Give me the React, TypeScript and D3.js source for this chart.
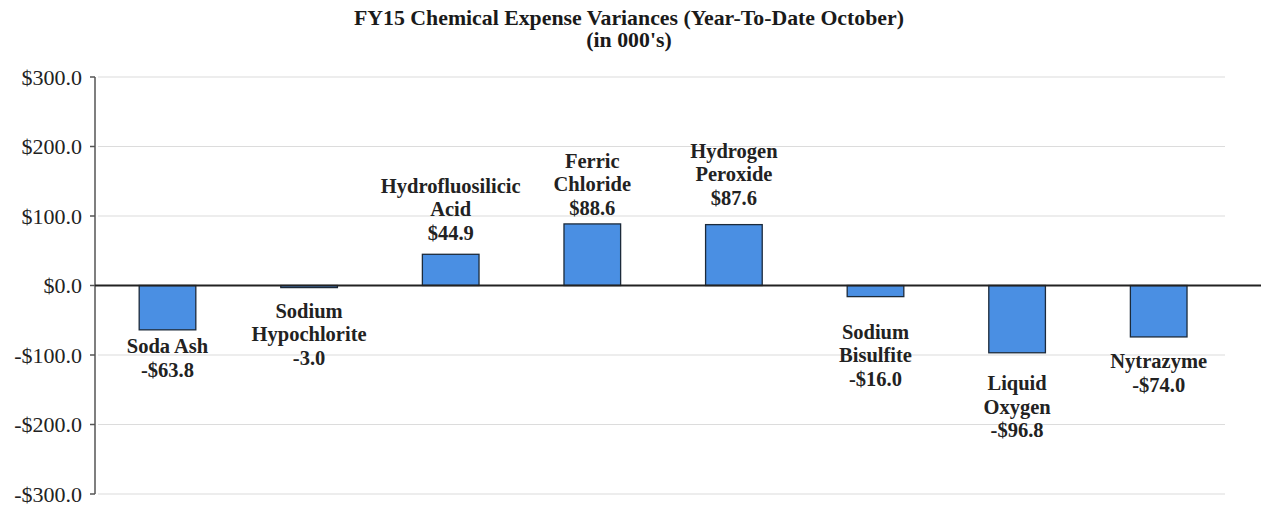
import React from "react";
import * as d3 from "d3";

const categories: string[][] = [
  ["Soda Ash"],
  ["Sodium", "Hypochlorite"],
  ["Hydrofluosilicic", "Acid"],
  ["Ferric", "Chloride"],
  ["Hydrogen", "Peroxide"],
  ["Sodium", "Bisulfite"],
  ["Liquid", "Oxygen"],
  ["Nytrazyme"],
];
const values: number[] = [-63.8, -3.0, 44.9, 88.6, 87.6, -16.0, -96.8, -74.0];
const valueLabels: string[] = ["-$63.8", "-3.0", "$44.9", "$88.6", "$87.6", "-$16.0", "-$96.8", "-$74.0"];
const tickValues: number[] = [300, 200, 100, 0, -100, -200, -300];
const tickLabels: string[] = ["$300.0", "$200.0", "$100.0", "$0.0", "-$100.0", "-$200.0", "-$300.0"];
const titleLines: string[] = ["FY15 Chemical Expense Variances (Year-To-Date October)", "(in 000's)"];
// label nudges (px) from the bar end to the nearest text baseline
const labelNudge: number[] = [23.5, 30, 14.7, 9.3, 20, 42, 37.5, 31.5];

export default function App() {
  const W = 1261, H = 506;
  const left = 96.7, right = 1229.5, top = 77, bottom = 494;
  const x = d3.scaleBand<number>().domain(d3.range(values.length)).range([left, right]).paddingInner(0.6).paddingOuter(0.3);
  const y = d3.scaleLinear().domain([-300, 300]).range([bottom, top]);
  const font = "'Liberation Serif', 'Times New Roman', serif";
  const lh = 23.5;
  return (
    <svg width={W} height={H} style={{ position: "absolute", left: 0, top: 0, background: "#fff", fontFamily: font }}>
      {titleLines.map((t, i) => (
        <text key={i} x={629} y={25 + i * 21.5} textAnchor="middle" fontWeight="bold" fontSize={21.8} fill="#1a1a1a">{t}</text>
      ))}
      {tickValues.map((v, i) => (
        <g key={i}>
          {v !== 0 && <line x1={98} x2={1225} y1={y(v)} y2={y(v)} stroke="#dcdcdc" strokeWidth={1.2} />}
          <line x1={90} x2={95} y1={y(v)} y2={y(v)} stroke="#555" strokeWidth={1.5} />
          <text x={82} y={y(v)} dy="0.35em" textAnchor="end" fontSize={22} fill="#222">{tickLabels[i]}</text>
        </g>
      ))}
      <line x1={95} x2={95} y1={y(300)} y2={y(-300)} stroke="#555" strokeWidth={1.5} />
      {values.map((v, i) => (
        <rect key={i} x={x(i)} width={x.bandwidth()} y={Math.min(y(v), y(0))} height={Math.abs(y(v) - y(0))}
          fill="#4a8fe3" stroke="#1c2a3a" strokeWidth={1.3} />
      ))}
      <line x1={95} x2={W} y1={y(0)} y2={y(0)} stroke="#222" strokeWidth={2} />
      {values.map((v, i) => {
        const lines = [...categories[i], valueLabels[i]];
        const cx = x(i)! + x.bandwidth() / 2;
        const n = lines.length;
        const startY = v >= 0 ? y(v) - labelNudge[i] - (n - 1) * lh : y(v) + labelNudge[i];
        return (
          <text key={i} textAnchor="middle" fontWeight="bold" fontSize={20.5} fill="#222">
            {lines.map((l, j) => (
              <tspan key={j} x={cx} y={startY + j * lh}>{l}</tspan>
            ))}
          </text>
        );
      })}
    </svg>
  );
}
